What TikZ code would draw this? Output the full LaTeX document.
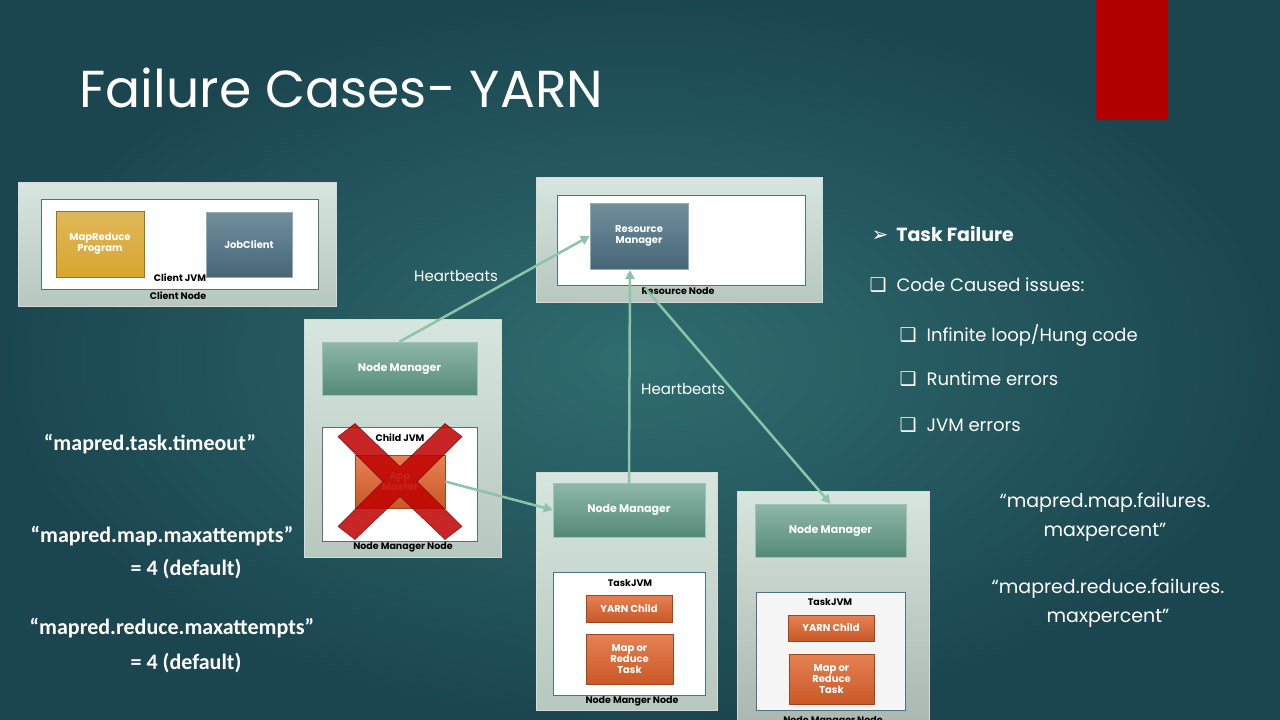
\documentclass[tikz,border=0pt]{standalone}
\usepackage{fontspec}
\setmainfont{Poppins}
\newfontfamily\carl{Carlito}
\newfontfamily\dvs{DejaVu Sans}
\usetikzlibrary{arrows.meta}
\definecolor{bgA}{HTML}{2F6D6F}
\definecolor{bgB}{HTML}{1B4650}
\definecolor{outerC}{HTML}{C5DACF}
\definecolor{nmC}{HTML}{5E9985}
\definecolor{rmC}{HTML}{4E7284}
\definecolor{goldC}{HTML}{D8A630}
\definecolor{orC}{HTML}{E0622A}
\definecolor{lineC}{HTML}{8CC3AA}
\tikzset{
 outer/.style={draw=white!70!gray,line width=1pt,top color=outerC!70!white,bottom color=outerC!80!gray},
 inner/.style={draw=rmC,line width=1pt,fill=white},
 nm/.style={draw=nmC!60!white,top color=nmC!70!white,bottom color=nmC!90!black,text=white,font=\fontsize{11}{12}\selectfont\bfseries},
 rm/.style={draw=rmC!60!white,top color=rmC!80!white,bottom color=rmC!90!black,text=white,font=\fontsize{10}{11}\selectfont\bfseries,align=center},
 orb/.style={draw=orC!70!black,top color=orC!80!white,bottom color=orC!90!black,text=white,font=\fontsize{10}{11}\selectfont\bfseries,align=center},
 lab/.style={font=\fontsize{9.5}{10}\selectfont\bfseries,text=black},
 hb/.style={draw=lineC,line width=2.5pt,-{Triangle[length=9pt,width=9pt]}},
 q/.style={text=white,font=\carl\bfseries\fontsize{22}{24}\selectfont,align=center},
 r/.style={text=white,font=\fontsize{18}{20}\selectfont,anchor=west},
}
\begin{document}
\begin{tikzpicture}[x=1pt,y=-1pt]
\shade[inner color=bgA,outer color=bgB] (0,0) rectangle (1280,720);
\useasboundingbox (0,0) rectangle (1280,720);
\fill[red!70!black] (1096,0) rectangle (1168,120);
\node[anchor=west,text=white,font=\fontsize{52}{56}\selectfont] (title) at (76,88) {Failure Cases- YARN};

% client node
\node[outer,minimum width=318,minimum height=124] (cn) at (177,244) {};
\node[inner,minimum width=277,minimum height=90] (cj) at (179.5,244) {};
\node[draw=goldC!70!black,top color=goldC!80!white,bottom color=goldC,text=white,font=\fontsize{10}{11}\selectfont\bfseries,align=center,minimum width=88,minimum height=66] (mr) at (100,244) {MapReduce\\Program};
\node[rm,minimum width=86,minimum height=65] (jc) at (249,244.5) {JobClient};
\node[lab] (cjl) at (180,278) {Client JVM};
\node[lab] (cnl) at (178,296) {Client Node};

% resource node
\node[outer,minimum width=286,minimum height=125] (rn) at (679,239.5) {};
\node[inner,minimum width=248,minimum height=90] (rj) at (681,240) {};
\node[rm,minimum width=98,minimum height=66] (rmg) at (639,236) {Resource\\Manager};
\node[lab] (rnl) at (678,291) {Resource Node};

% NM node 1
\node[outer,minimum width=197,minimum height=238] (n1) at (402.5,438) {};
\node[nm,minimum width=155,minimum height=53] (nm1) at (399.5,368.5) {Node Manager};
\node[inner,minimum width=155,minimum height=114] (cj1) at (399.5,484) {};
\node[lab] (cj1l) at (400,438) {Child JVM};
\node[orb,minimum width=90,minimum height=53,text=white!80!orC] (am) at (400,481.5) {App\\Master};
\fill[red!75!black,opacity=0.85,draw=red!40!black] (400,481.5) +(-62,-45) -- +(-45,-58) -- +(0,-15) -- +(45,-58) -- +(62,-45) -- +(17,0) -- +(62,45) -- +(45,58) -- +(0,15) -- +(-45,58) -- +(-62,45) -- +(-17,0) -- cycle;
\node[lab] (n1l) at (403,547) {Node Manager Node};

% NM node 2
\node[outer,minimum width=181,minimum height=238] (n2) at (626.5,591) {};
\node[nm,minimum width=152,minimum height=54] (nm2) at (629,510) {Node Manager};
\node[inner,minimum width=152,minimum height=123] (tj2) at (629,633.5) {};
\node[lab] (tj2l) at (630,583) {TaskJVM};
\node[orb,minimum width=86,minimum height=27] (yc2) at (629,608.5) {YARN Child};
\node[orb,minimum width=87,minimum height=50] (mt2) at (629.5,659) {Map or\\Reduce\\Task};
\node[lab] (n2l) at (632,701) {Node Manger Node};

% NM node 3
\node[outer,minimum width=192,minimum height=240,bottom color=outerC!60!gray] (n3) at (833,611) {};
\node[nm,minimum width=151,minimum height=53] (nm3) at (830.5,530.5) {Node Manager};
\node[inner,fill=gray!8,minimum width=149,minimum height=118] (tj3) at (830.5,651) {};
\node[lab] (tj3l) at (830,602) {TaskJVM};
\node[orb,minimum width=86,minimum height=26] (yc3) at (831,628) {YARN Child};
\node[orb,minimum width=85,minimum height=50] (mt3) at (831.5,679) {Map or\\Reduce\\Task};
\node[lab,anchor=north] (n3l) at (833,713) {Node Manager Node};

% connectors
\draw[hb] (nm1.north) -- (rmg.west);
\draw[hb] (nm2.north) -- (630,270);
\draw[hb] (645,288) -- (nm3.north);
\draw[hb] (am.east) -- (nm2.west);
\node[text=white,font=\fontsize{15}{16}\selectfont] (hb1) at (456,276) {Heartbeats};
\node[text=white,font=\fontsize{15}{16}\selectfont] (hb2) at (683,389) {Heartbeats};

% right list
\node[anchor=west,text=white,font=\fontsize{19}{20}\selectfont\bfseries] (tf) at (868,234) {{\dvs\fontsize{20}{20}\selectfont ➢}\hspace{8pt}Task Failure};
\node[r] (c1) at (866,285) {{\dvs\fontsize{19}{20}\selectfont ❑}\hspace{10pt}Code Caused issues:};
\node[r] (c2) at (896,335) {{\dvs\fontsize{19}{20}\selectfont ❑}\hspace{10pt}Infinite loop/Hung code};
\node[r] (c3) at (896,379) {{\dvs\fontsize{19}{20}\selectfont ❑}\hspace{10pt}Runtime errors};
\node[r] (c4) at (896,425) {{\dvs\fontsize{19}{20}\selectfont ❑}\hspace{10pt}JVM errors};

% quotes
\node[q] (q1) at (150,444) {“mapred.task.timeout”};
\node[q] (q2) at (162,536) {“mapred.map.maxattempts”};
\node[q] (q2b) at (186,569) {= 4 (default)};
\node[q] (q3) at (172,628) {“mapred.reduce.maxattempts”};
\node[q] (q3b) at (186,663) {= 4 (default)};
\node[q,font=\fontsize{19}{29}\selectfont] (q4) at (1105,517) {“mapred.map.failures.\\maxpercent”};
\node[q,font=\fontsize{19}{29}\selectfont] (q5) at (1108,603) {“mapred.reduce.failures.\\maxpercent”};
\end{tikzpicture}
\end{document}
